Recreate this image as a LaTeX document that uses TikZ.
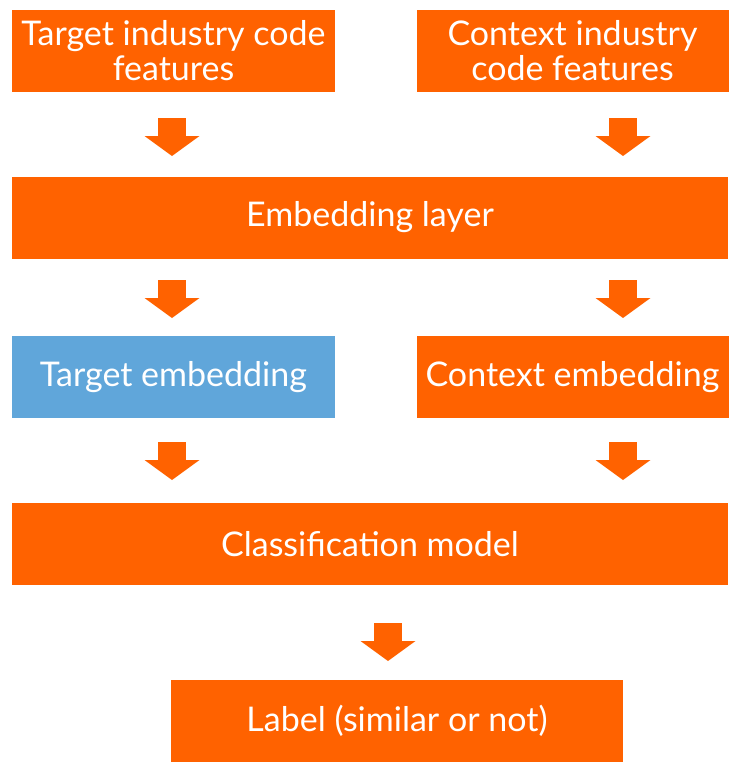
\documentclass[tikz,border=0pt]{standalone}
\usepackage{fontspec}
\setmainfont{Lato}
\usetikzlibrary{arrows.meta}
\definecolor{ingorange}{HTML}{FF6200}
\definecolor{ingblue}{HTML}{60A6DA}

\begin{document}
\begin{tikzpicture}[x=1pt, y=-1pt,
    box/.style = {fill=ingorange, text=white, align=center, inner sep=0pt,
        minimum height=82pt, font=\fontsize{34}{35}\selectfont},
    bluebox/.style = {box, fill=ingblue},
    fat/.style = {draw=ingorange, line width=28pt,
        -{Triangle[length=20pt, width=55pt, line width=0pt]}}]
    \useasboundingbox (0,0) rectangle (738,763);

    % Nodes
    \node[box, minimum width=323pt] (tfeat) at (173.5, 51) {Target industry code\\features};
    \node[box, minimum width=312pt] (cfeat) at (572.5, 51) {Context industry\\code features};
    \node[box, minimum width=716pt] (emb) at (370, 217.5) {Embedding layer};
    \node[bluebox, minimum width=323pt] (temb) at (173.5, 377) {Target embedding};
    \node[box, minimum width=312pt] (cemb) at (572.5, 377) {Context embedding};
    \node[box, minimum width=716pt] (clf) at (370, 544) {Classification model};
    \node[box, minimum width=452pt] (lbl) at (397, 721) {Label (similar or not)};

    % arrow ends
    \coordinate (a1) at (172, 118);  \coordinate (b1) at (172, 156);
    \coordinate (a2) at (623, 118);  \coordinate (b2) at (623, 156);
    \coordinate (a3) at (172, 280);  \coordinate (b3) at (172, 318);
    \coordinate (a4) at (623, 280);  \coordinate (b4) at (623, 318);
    \coordinate (a5) at (172, 442);  \coordinate (b5) at (172, 480);
    \coordinate (a6) at (623, 442);  \coordinate (b6) at (623, 480);
    \coordinate (a7) at (388, 623);  \coordinate (b7) at (388, 661);

    % Edges
    \draw[fat] (a1) -- (b1);
    \draw[fat] (a2) -- (b2);
    \draw[fat] (a3) -- (b3);
    \draw[fat] (a4) -- (b4);
    \draw[fat] (a5) -- (b5);
    \draw[fat] (a6) -- (b6);
    \draw[fat] (a7) -- (b7);

\end{tikzpicture}
\end{document}
